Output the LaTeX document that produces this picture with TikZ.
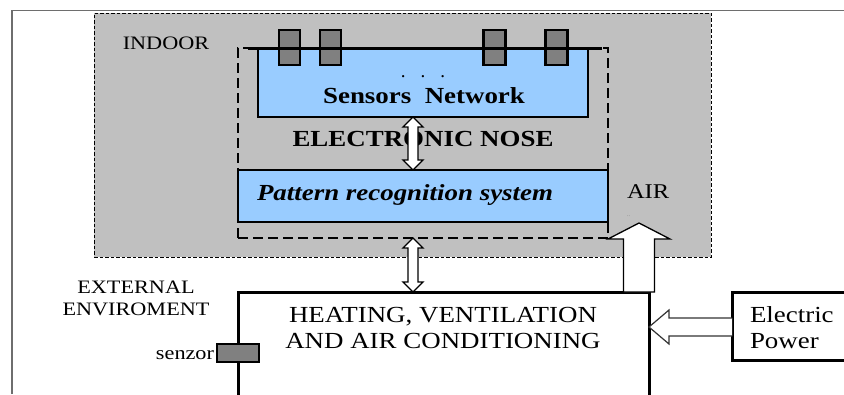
\documentclass[tikz,border=0pt]{standalone}
\usepackage{fontspec}
\setmainfont{Liberation Serif}
\usepackage{graphicx}
\usetikzlibrary{calc}
\definecolor{indoorgray}{RGB}{192,192,192}
\definecolor{senscol}{RGB}{128,128,128}
\definecolor{boxblue}{RGB}{153,204,255}
\definecolor{framegray}{RGB}{110,110,110}
\newcommand{\sx}[1]{\scalebox{1.17}[1]{#1}}
\begin{document}
\begin{tikzpicture}[x=1pt,y=-1pt,
  box/.style={draw=black, inner sep=0pt, outer sep=0pt},
  sensbox/.style={box, fill=senscol, line width=2.5pt, minimum width=21pt, minimum height=35pt},
  lbl/.style={inner sep=0pt, outer sep=0pt, anchor=base, font=\fontsize{19}{22}\selectfont},
  big/.style={inner sep=0pt, outer sep=0pt, anchor=base, font=\fontsize{23}{26}\selectfont},
  bigb/.style={big, font=\bfseries\fontsize{23}{26}\selectfont},
  arr/.style={draw=black, fill=white, line width=1.3pt, line join=miter},
]
\useasboundingbox (0,0) rectangle (844,394);
\clip (0,0) rectangle (844,394);
\fill[white] (0,0) rectangle (844,394);

% outer frame
\draw[framegray, line width=1.5pt] (12,394) -- (12,10.7) -- (844,10.7);

% indoor region
\node[box, fill=indoorgray, line width=0.8pt, dash pattern=on 3.5pt off 2pt,
      minimum width=617pt, minimum height=244pt] (indoor) at (402.5,135) {};

% electronic nose dashed box
\node[box, line width=2.5pt, dash pattern=on 10pt off 5pt,
      minimum width=370pt, minimum height=190pt] (enose) at (423,143) {};

% sensors network
\node[box, fill=boxblue, line width=2pt, minimum width=330pt, minimum height=69pt] (sensnet) at (423,82.5) {};
\node[sensbox] (s1) at (289.5,47.5) {};
\node[sensbox] (s2) at (330.5,47.5) {};
\node[sensbox, minimum width=22pt] (s3) at (494.5,47.5) {};
\node[sensbox, minimum width=22pt] (s4) at (556.5,47.5) {};
\draw[line width=3pt] ($(sensnet.north west)+(-10,0)$) -- ($(sensnet.north east)+(14,0)$);

% pattern recognition
\node[box, fill=boxblue, line width=2pt, minimum width=370pt, minimum height=52pt] (pattern) at (423,196) {};

% HVAC
\node[box, fill=white, line width=3pt, minimum width=411pt, minimum height=160pt] (hvac) at (443.5,372) {};

% electric power
\node[box, fill=white, line width=3pt, minimum width=148pt, minimum height=68pt] (power) at (806,326) {};

% external sensor
\node[box, fill=senscol, line width=2pt, minimum width=42pt, minimum height=18pt] (senzor) at (238,353) {};

% texts
\node[lbl] (tindoor) at (166,49) {\sx{INDOOR}};
\node[lbl, font=\fontsize{19}{22}\selectfont] (tdots) at (423,77) {.\hspace{15pt}.\hspace{15pt}.};
\node[bigb] (tsens) at (424,103) {\sx{Sensors\ \ Network}};
\node[bigb] (tnose) at (423,146) {\sx{ELECTRONIC NOSE}};
\node[bigb, anchor=base west, font=\bfseries\itshape\fontsize{23}{26}\selectfont] (tpat) at (257,200) {\sx{Pattern recognition system}};
\node[lbl, anchor=base west, font=\fontsize{21}{24}\selectfont] (tair) at (627,198) {\sx{AIR}};
\node[lbl, anchor=base west, text=gray, font=\fontsize{6}{7}\selectfont] (tairdots) at (627,216) {..};
\node[lbl] (text1) at (136,293) {\sx{EXTERNAL}};
\node[lbl] (text2) at (136,315) {\sx{ENVIROMENT}};
\node[big] (thvac1) at (443,322) {\sx{HEATING, VENTILATION}};
\node[big] (thvac2) at (443,348) {\sx{AND AIR CONDITIONING}};
\node[big, anchor=base west] (tpow1) at (750,322) {\sx{Electric}};
\node[big, anchor=base west] (tpow2) at (750,348) {\sx{Power}};
\node[lbl, anchor=base east] (tsenzor) at (214,359) {\sx{senzor}};

% double arrows
\coordinate (ax) at (413,0);
\coordinate (a1t) at (sensnet.south -| ax);
\coordinate (a1b) at (pattern.north -| ax);
\coordinate (a2t) at (enose.south -| ax);
\coordinate (a2b) at (hvac.north -| ax);
\draw[arr] (a1t) -- ++(10,10) -- ++(-5,0) -- ($(a1b)+(5,-10)$) -- ++(5,0) -- (a1b)
  -- ++(-10,-10) -- ++(5,0) -- ($(a1t)+(-5,10)$) -- ++(-5,0) -- cycle;
\draw[arr] (a2t) -- ++(10,10) -- ++(-5,0) -- ($(a2b)+(5,-10)$) -- ++(5,0) -- (a2b)
  -- ++(-10,-10) -- ++(5,0) -- ($(a2t)+(-5,10)$) -- ++(-5,0) -- cycle;

% AIR arrow
\coordinate (airx) at (639,223);
\coordinate (airtip) at (airx);
\coordinate (airbase) at (hvac.north -| airx);
\draw[arr] ($(airbase)+(-15.5,0)$) -- ($(airtip)+(-15.5,16)$) -- ($(airtip)+(-31,16)$) -- (airtip)
  -- ($(airtip)+(31,16)$) -- ($(airtip)+(15.5,16)$) -- ($(airbase)+(15.5,0)$) -- cycle;

% power arrow
\coordinate (py) at (0,327);
\coordinate (ptip) at (hvac.east |- py);
\coordinate (pbase) at (power.west |- py);
\draw[arr, draw=black!80, line width=1.2pt] ($(pbase)+(0,-9)$) -- ($(ptip)+(20,-9)$) -- ($(ptip)+(20,-17)$) -- (ptip)
  -- ($(ptip)+(20,17)$) -- ($(ptip)+(20,9)$) -- ($(pbase)+(0,9)$);
\end{tikzpicture}
\end{document}
